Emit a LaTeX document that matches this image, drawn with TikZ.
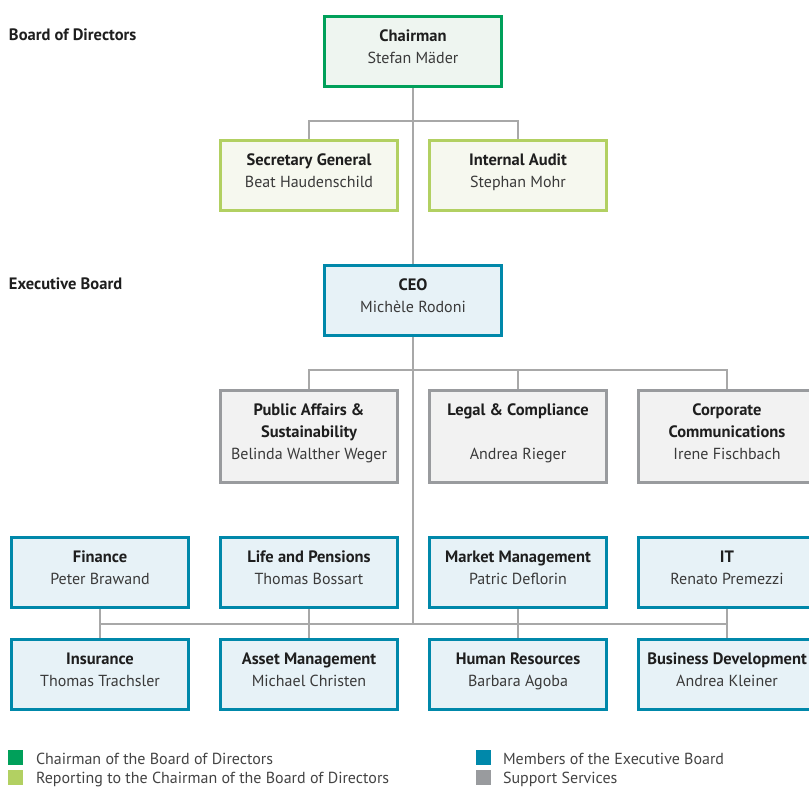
\documentclass[tikz,border=0pt]{standalone}
\usepackage{fontspec}
\setmainfont{PT Sans}
\usetikzlibrary{backgrounds}
\definecolor{chairgreen}{HTML}{00A05A}
\definecolor{chairfill}{HTML}{EEF5F0}
\definecolor{reportgreen}{HTML}{B2D062}
\definecolor{reportfill}{HTML}{F6F8EF}
\definecolor{execblue}{HTML}{0088AA}
\definecolor{execfill}{HTML}{E7F2F7}
\definecolor{supportgray}{HTML}{999B9E}
\definecolor{supportfill}{HTML}{F2F2F2}
\definecolor{linkgray}{HTML}{A8A8A8}
\definecolor{titlecol}{HTML}{1E1E1E}
\definecolor{namecol}{HTML}{3A3A3A}
\definecolor{legendcol}{HTML}{444444}
% text helpers for the boxes; extra depth lifts the lines a little above centre
\newcommand{\ttl}[1]{{\fontsize{16.5}{22}\selectfont\bfseries\color{titlecol}#1}}
\newcommand{\nm}[1]{{\color{namecol}#1}}
\newcommand{\boxlines}[1]{\raisebox{0pt}[\height][\dimexpr\depth+6pt\relax]{\begin{tabular}{@{}c@{}}#1\end{tabular}}}
\newcommand{\boxtext}[2]{\boxlines{\ttl{#1}\\\nm{#2}}}
\begin{document}
\begin{tikzpicture}[x=1pt,y=-1pt,
  every node/.style={inner sep=0pt,outer sep=0pt},
  orgbox/.style={draw,line width=3pt,minimum width=177pt,minimum height=70pt,
    font=\fontsize{16}{22}\selectfont},
  tallbox/.style={orgbox,minimum height=92pt},
  chairbox/.style={orgbox,draw=chairgreen,fill=chairfill},
  reportbox/.style={orgbox,draw=reportgreen,fill=reportfill},
  execbox/.style={orgbox,draw=execblue,fill=execfill},
  supportbox/.style={tallbox,draw=supportgray,fill=supportfill},
  link/.style={draw=linkgray,line width=1.3pt},
  section/.style={anchor=west,font=\fontsize{16.5}{20}\selectfont\bfseries,text=titlecol},
  legendsq/.style={minimum width=15pt,minimum height=15pt},
  legendtxt/.style={anchor=base west,font=\fontsize{16}{20}\selectfont,text=legendcol}
]
\useasboundingbox (0,0) rectangle (809,787);

% section labels
\node[section] (bodlabel) at (9,35) {Board of Directors};
\node[section] (eblabel) at (9,284) {Executive Board};

% board of directors
\node[chairbox] (chair) at (413,51.5) {\boxtext{Chairman}{Stefan Mäder}};
\node[reportbox] (sec) at (309,175.5) {\boxtext{Secretary General}{Beat Haudenschild}};
\node[reportbox] (audit) at (518,175.5) {\boxtext{Internal Audit}{Stephan Mohr}};

% executive board
\node[execbox] (ceo) at (413,300.5) {\boxtext{CEO}{Michèle Rodoni}};

% support services
\node[supportbox] (pa) at (309,436.5) {\boxlines{\ttl{Public Affairs \&}\\\ttl{Sustainability}\\\nm{Belinda Walther Weger}}};
\node[supportbox] (lc) at (518,436.5) {\boxlines{\ttl{Legal \& Compliance}\\ \\\nm{Andrea Rieger}}};
\node[supportbox] (cc) at (727,436.5) {\boxlines{\ttl{Corporate}\\\ttl{Communications}\\\nm{Irene Fischbach}}};

% members of the executive board
\node[execbox] (fin) at (100,572.5) {\boxtext{Finance}{Peter Brawand}};
\node[execbox] (lp) at (309,572.5) {\boxtext{Life and Pensions}{Thomas Bossart}};
\node[execbox] (mm) at (518,572.5) {\boxtext{Market Management}{Patric Deflorin}};
\node[execbox] (it) at (727,572.5) {\boxtext{IT}{Renato Premezzi}};
\node[execbox] (ins) at (100,674.5) {\boxtext{Insurance}{Thomas Trachsler}};
\node[execbox] (am) at (309,674.5) {\boxtext{Asset Management}{Michael Christen}};
\node[execbox] (hr) at (518,674.5) {\boxtext{Human Resources}{Barbara Agoba}};
\node[execbox] (bd) at (727,674.5) {\boxtext{Business Development}{Andrea Kleiner}};

% bus junctions
\coordinate (busA) at (413,121);
\coordinate (busB) at (413,370);
\coordinate (busC) at (413,624);

% connectors behind the boxes
\begin{scope}[on background layer]
\fill[white] (0,0) rectangle (809,787);
\path[link] (chair.south) -- (busC);
\path[link] (sec.north) |- (busA) -| (audit.north);
\path[link] (pa.north) |- (busB) -| (cc.north);
\path[link] (lc.north) -- (lc.north |- busB);
\path[link] (fin.south |- busC) -- (it.south |- busC);
\path[link] (fin.south) -- (ins.north);
\path[link] (lp.south) -- (am.north);
\path[link] (mm.south) -- (hr.north);
\path[link] (it.south) -- (bd.north);
\end{scope}

% legend
\node[legendsq,fill=chairgreen] (lg1) at (15.5,757) {};
\node[legendtxt] (lt1) at (36,764) {Chairman of the Board of Directors};
\node[legendsq,fill=reportgreen] (lg2) at (15.5,777.5) {};
\node[legendtxt] (lt2) at (36,783) {Reporting to the Chairman of the Board of Directors};
\node[legendsq,fill=execblue] (lg3) at (483,757) {};
\node[legendtxt] (lt3) at (503,764) {Members of the Executive Board};
\node[legendsq,fill=supportgray] (lg4) at (483,777.5) {};
\node[legendtxt] (lt4) at (503,783) {Support Services};
\end{tikzpicture}
\end{document}
